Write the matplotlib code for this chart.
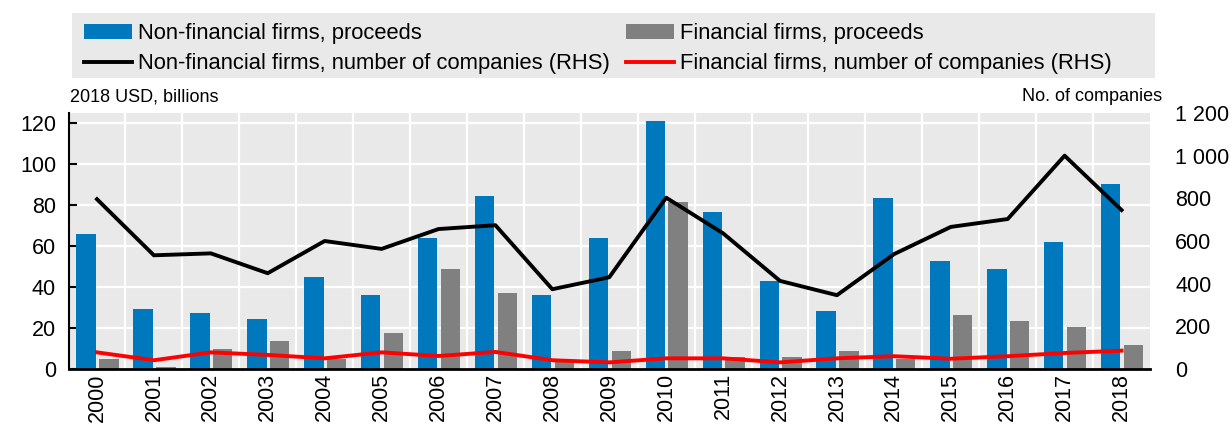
import numpy as np
import matplotlib
matplotlib.use("Agg")
import matplotlib.pyplot as plt
from matplotlib.patches import Rectangle
from matplotlib.ticker import FuncFormatter, MultipleLocator

plt.rcParams['font.family'] = ['Liberation Sans', 'DejaVu Sans']

# data
years = [str(y) for y in range(2000, 2019)]
nonfin_proceeds = [66, 29.3, 27.5, 24.4, 44.7, 36.1, 64.2, 84.4, 35.9, 64.2,
                   121.3, 76.6, 42.8, 28.3, 83.6, 52.5, 48.6, 62.1, 90.2]
fin_proceeds = [5.0, 1.1, 9.9, 13.8, 5.0, 17.6, 48.6, 36.9, 4.0, 8.9,
                81.5, 5.7, 5.7, 8.9, 5.0, 26.3, 23.4, 20.5, 11.7]
nonfin_count = [796, 533, 542, 449, 600, 563, 656, 674, 374, 430,
                803, 636, 413, 346, 538, 666, 703, 1000, 745]
fin_count = [78, 41, 78, 66, 50, 78, 61, 80, 41, 31,
             50, 50, 31, 50, 60, 48, 60, 75, 86]

blue = '#0078BE'
grey = '#808080'
bg = '#E9E9E9'

W, H = 1232, 425
fig = plt.figure(figsize=(W / 100, H / 100), dpi=100)
ax = fig.add_axes([68.5 / W, 1 - 369 / H, (1150 - 68.5) / W, (369 - 113) / H])
ax.set_facecolor(bg)

x = np.arange(len(years))
bw = 0.34
b1 = ax.bar(x - 0.19, nonfin_proceeds, bw, color=blue, zorder=2,
            label='Non-financial firms, proceeds')
b2 = ax.bar(x + 0.21, fin_proceeds, bw, color=grey, zorder=2,
            label='Financial firms, proceeds')

ax.set_xlim(-0.5, len(years) - 0.5)
ax.set_ylim(0, 125)
ax.yaxis.set_major_locator(MultipleLocator(20))
ax.set_xticks(x)
ax.set_xticklabels(years, rotation=90)
ax.set_xticks(x[:-1] + 0.5, minor=True)
ax.grid(True, which='major', axis='y', color='white', lw=1.6, zorder=0)
ax.grid(True, which='minor', axis='x', color='white', lw=1.6, zorder=0)
ax.set_axisbelow(True)
ax.tick_params(axis='x', which='both', length=0, pad=3, labelsize=15.5)
ax.tick_params(axis='y', direction='in', length=6, width=1.5, pad=9, labelsize=15.5)
for s in ['top', 'right']:
    ax.spines[s].set_visible(False)
ax.spines['left'].set_linewidth(1.5)
ax.spines['bottom'].set_linewidth(2)

ax2 = ax.twinx()
l1, = ax2.plot(x, nonfin_count, color='black', lw=2.8, zorder=3,
               label='Non-financial firms, number of companies (RHS)')
l2, = ax2.plot(x, fin_count, color='#FF0000', lw=2.8, zorder=3,
               label='Financial firms, number of companies (RHS)')
ax2.set_ylim(0, 1200)
ax2.yaxis.set_major_locator(MultipleLocator(200))
ax2.yaxis.set_major_formatter(FuncFormatter(lambda v, p: f'{int(v):,}'.replace(',', ' ')))
ax2.tick_params(axis='y', length=0, pad=18, labelsize=15.5)
for s in ax2.spines.values():
    s.set_visible(False)

fig.text(70 / W, 1 - 105 / H, '2018 USD, billions', fontsize=13, va='bottom', ha='left')
fig.text(1162 / W, 1 - 105 / H, 'No. of companies', fontsize=13, va='bottom', ha='right')

# grey legend band
fig.patches.append(Rectangle((72 / W, 1 - 78 / H), (1155 - 72) / W, 65 / H,
                             transform=fig.transFigure, facecolor=bg,
                             edgecolor='none', zorder=0))
leg = fig.legend([b1, l1, b2, l2],
                 [b1.get_label(), l1.get_label(), b2.get_label(), l2.get_label()],
                 loc='upper left', ncol=2,
                 bbox_to_anchor=(84 / W, 1 - 23 / H),
                 fontsize=15.8, frameon=False, handlelength=2.19,
                 handletextpad=0.27, columnspacing=0.73,
                 borderaxespad=0, borderpad=0, labelspacing=0.42)

fig.savefig('out.png', dpi=100)
